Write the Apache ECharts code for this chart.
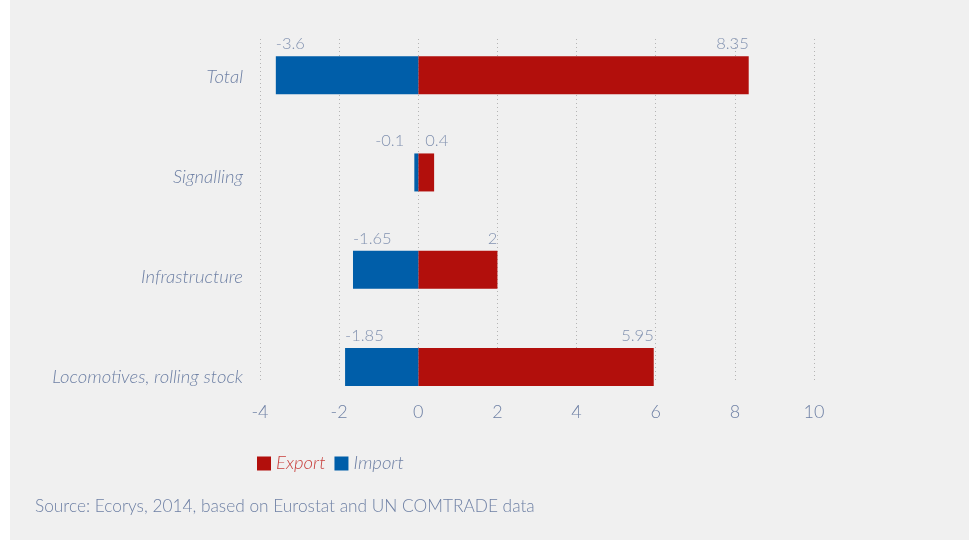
<!DOCTYPE html>
<html>
<head>
<meta charset="utf-8">
<script src="https://cdn.jsdelivr.net/npm/echarts@6/dist/echarts.min.js"></script>
<style>
html,body{margin:0;padding:0;background:#fff;}
#main{width:969px;height:540px;}
</style>
</head>
<body>
<div id="main"></div>
<script>
var categories = ['Total', 'Signalling', 'Infrastructure', 'Locomotives, rolling stock'];
var exportVals = [8.35, 0.4, 2, 5.95];
var importVals = [-3.6, -0.1, -1.65, -1.85];
var xMin = -4, xMax = 10, xStep = 2;

var labelColor = '#8292b0';
var axisColor = '#6f81a5';
var fontFam = 'Lato, "Open Sans", sans-serif';

var myChart = echarts.init(document.getElementById('main'));

// labels sit above the outer end of each bar; Signalling is pushed apart
var exportData = [], importData = [];
for (var i = 0; i < categories.length; i++) {
    var e = {value: exportVals[i]};
    var m = {value: importVals[i]};
    if (categories[i] == 'Signalling') {
        e.label = {position: ['0%', 0], align: 'left', offset: [7, -4]};
        m.label = {position: ['100%', 0], align: 'right', offset: [-14, -4]};
    }
    exportData.push(e);
    importData.push(m);
}

var option = {
    backgroundColor: '#f0f0f0',
    animation: false,
    textStyle: {fontFamily: fontFam},
    graphic: [
        {type: 'rect', left: 0, top: 0, shape: {width: 10, height: 540}, style: {fill: '#ffffff'}},
        {type: 'text', left: 35, top: 498,
         style: {text: 'Source: Ecorys, 2014, based on Eurostat and UN COMTRADE data',
                 fill: axisColor, font: '300 17.3px Lato, sans-serif'}}
    ],
    legend: {
        left: 252, top: 449,
        icon: 'rect', itemWidth: 14, itemHeight: 14, itemGap: 9,
        textStyle: {fontSize: 18.5, fontStyle: 'italic', fontWeight: 300, fontFamily: fontFam},
        data: [
            {name: 'Export', textStyle: {color: '#c8403d'}},
            {name: 'Import', textStyle: {color: axisColor}}
        ]
    },
    grid: [
        {left: 260, right: 155, top: 26.5, height: 389.2},   // bars
        {left: 260, right: 155, top: 39, height: 343},       // dotted lines + x labels
        {left: 260, right: 155, top: 27, height: 400}        // category labels
    ],
    xAxis: [
        {gridIndex: 0, type: 'value', min: xMin, max: xMax, interval: xStep, show: false},
        {gridIndex: 1, type: 'value', min: xMin, max: xMax, interval: xStep,
         axisLine: {show: false}, axisTick: {show: false},
         axisLabel: {margin: 21, fontSize: 18, fontWeight: 300, color: axisColor},
         splitLine: {show: true, lineStyle: {type: [1, 3], color: '#b4b4b4', width: 1}}},
        {gridIndex: 2, type: 'value', min: xMin, max: xMax, show: false}
    ],
    yAxis: [
        {gridIndex: 0, type: 'category', inverse: true, data: categories, show: false},
        {gridIndex: 1, type: 'value', show: false, min: 0, max: 1},
        {gridIndex: 2, type: 'category', inverse: true, data: categories,
         axisLine: {show: false}, axisTick: {show: false},
         axisLabel: {margin: 17, fontSize: 18.5, fontStyle: 'italic', fontWeight: 300, color: axisColor}}
    ],
    series: [
        {
            name: 'Export', type: 'bar', stack: 'trade',
            xAxisIndex: 0, yAxisIndex: 0,
            barWidth: 38,
            itemStyle: {color: '#b20f0c'},
            label: {show: true, position: ['100%', 0], align: 'right', verticalAlign: 'bottom',
                    offset: [0, -4], color: labelColor, fontSize: 16.5, fontWeight: 300},
            data: exportData
        },
        {
            name: 'Import', type: 'bar', stack: 'trade',
            xAxisIndex: 0, yAxisIndex: 0,
            barWidth: 38,
            itemStyle: {color: '#005ea9'},
            label: {show: true, position: ['0%', 0], align: 'left', verticalAlign: 'bottom',
                    offset: [0, -4], color: labelColor, fontSize: 16.5, fontWeight: 300},
            data: importData
        }
    ]
};
myChart.setOption(option);
</script>
</body>
</html>
